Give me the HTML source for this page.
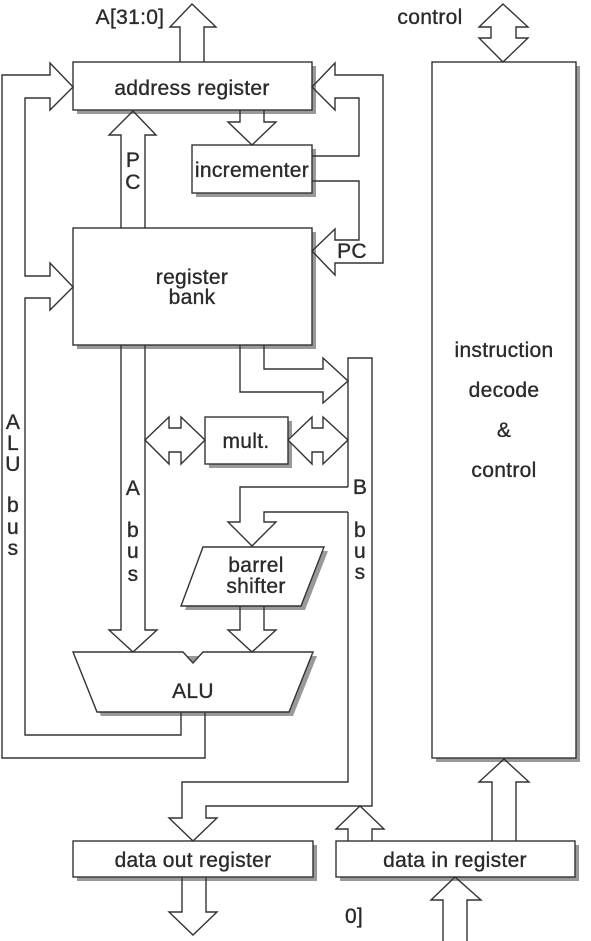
<!DOCTYPE html>
<html><head><meta charset="utf-8"><style>
html,body{margin:0;padding:0;background:#fff;}
svg{display:block;}
text{font-family:"Liberation Sans",Arial,sans-serif;font-size:21px;letter-spacing:0.3px;fill:#2a2a2a;stroke:#2a2a2a;stroke-width:0.35;text-anchor:middle;}
</style></head><body>
<svg width="591" height="941" viewBox="0 0 591 941" xmlns="http://www.w3.org/2000/svg">
<g fill="#999" stroke="none">
<rect x="77" y="66" width="239" height="48"/>
<rect x="196" y="149" width="120" height="48"/>
<rect x="77" y="232" width="239" height="117"/>
<rect x="209" y="421" width="83" height="47"/>
<polygon points="207,551 328,551 305,610 185,610"/>
<polygon points="77,656 317,656 293,716 101,716"/>
<rect x="436" y="66" width="144" height="696"/>
<rect x="77" y="845" width="240" height="36"/>
<rect x="340" y="845" width="239" height="36"/>
</g>
<g fill="#fff" stroke="#333" stroke-width="1.4" stroke-linejoin="miter">
<rect x="73" y="62" width="239" height="48"/>
<rect x="192" y="145" width="120" height="48"/>
<rect x="73" y="228" width="239" height="117"/>
<rect x="205" y="417" width="83" height="47"/>
<polygon points="203,547 324,547 301,606 181,606"/>
<polygon points="73,652 183,652 193,663 203,652 313,652 289,712 97,712"/>
<rect x="432" y="62" width="144" height="696"/>
<rect x="73" y="841" width="240" height="36"/>
<rect x="336" y="841" width="239" height="36"/>
</g>
<g fill="none" stroke="#333" stroke-width="1.4">
<polyline points="180,62 180,27 170,27 192,4 216,27 204,27 204,62"/>
<polygon fill="#fff" points="503,4 528,27 516,27 516,38 528,38 503,62 479,38 491,38 491,27 479,27"/>
<polyline points="121,228 121,135 109,135 133,111 156,135 145,135 145,228"/>
<polyline points="240,110 240,122 228,122 252,145 276,122 264,122 264,110"/>
<polyline points="181,712 181,735 25,735 25,298 50,298 50,310 73,287 50,263 50,276 25,276 25,98 50,98 50,110 73,87 50,63 50,75 2,75 2,758 205,758 205,712"/>
<polyline points="312,156 359,156 359,98 335,98 335,110 312,87 335,63 335,75 383,75 383,263 335,263 335,275 312,251 335,229 335,240 359,240 359,181 312,181"/>
<polyline points="121,345 121,630 109,630 133,652 157,630 145,630 145,345"/>
<polyline points="240,345 240,392 323,392 323,403 348,381 323,358 323,369 264,369 264,345"/>
<polygon fill="#fff" points="145,440 169,417 169,428 181,428 181,417 205,440 181,464 181,452 169,452 169,464"/>
<polygon fill="#fff" points="288,440 312,417 312,428 323,428 323,417 348,440 323,464 323,452 312,452 312,464"/>
<polyline points="348,487 348,358 372,358 372,806 206,806 206,818 217,818 193,841 169,818 182,818 182,782 348,782 348,512"/>
<polyline points="348,487 240,487 240,522 228,522 252,546 276,522 264,522 264,512 348,512"/>
<polyline points="240,606 240,630 228,630 252,652 276,630 264,630 264,606"/>
<polyline points="348,841 348,829 336,829 360,806 384,829 372,829 372,841"/>
<polyline points="182,877 182,912 169,912 193,935 217,912 206,912 206,877"/>
<polyline points="443,941 443,900 431,900 455,877 481,900 467,900 467,941"/>
<polyline points="492,841 492,782 479,782 504,759 529,782 516,782 516,841"/>
</g>
<text x="130" y="24">A[31:0]</text>
<text x="430" y="24">control</text>
<text x="192" y="95">address register</text>
<text x="252" y="177">incrementer</text>
<text x="133" y="167">P</text>
<text x="133" y="189">C</text>
<text x="352" y="258">PC</text>
<text x="192" y="284">register</text>
<text x="192" y="304">bank</text>
<text x="246" y="448">mult.</text>
<text x="256" y="572">barrel</text>
<text x="256" y="593">shifter</text>
<text x="193" y="698">ALU</text>
<g>
<text x="13" y="429">A</text><text x="13" y="450">L</text><text x="13" y="471">U</text>
<text x="13" y="512">b</text><text x="13" y="534">u</text><text x="13" y="555">s</text>
<text x="133" y="495">A</text>
<text x="133" y="537">b</text><text x="133" y="558">u</text><text x="133" y="581">s</text>
<text x="360" y="494">B</text>
<text x="360" y="537">b</text><text x="360" y="558">u</text><text x="360" y="579">s</text>
</g>
<text x="504" y="357">instruction</text>
<text x="504" y="397">decode</text>
<text x="504" y="437">&amp;</text>
<text x="504" y="477">control</text>
<text x="193" y="867">data out register</text>
<text x="455" y="867">data in register</text>
<text x="354" y="923">0]</text>
</svg>
</body></html>
